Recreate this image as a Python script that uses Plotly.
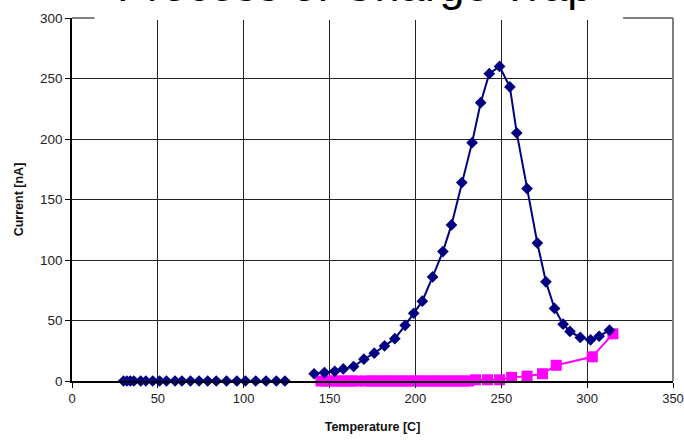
import plotly.graph_objects as go

# --- data ---
blue_temp = [30, 32, 34, 36, 40, 43, 47, 51, 55, 60, 64, 69, 74, 79, 84, 90, 96, 101, 107, 113, 119, 124,
             None,
             141, 147, 153, 158, 164, 170, 176, 182, 188, 194, 199, 204, 210, 216, 221, 227, 233, 238, 243,
             249, 255, 259, 265, 271, 276, 281, 286, 290, 296, 302, 307, 313]
blue_curr = [0, 0, 0, 0, 0, 0, 0, 0, 0, 0, 0, 0, 0, 0, 0, 0, 0, 0, 0, 0, 0, 0,
             None,
             6, 7, 8, 10, 12, 18, 23, 29, 35, 46, 56, 66, 86, 107, 129, 164, 197, 230, 254,
             260, 243, 205, 159, 114, 82, 60, 47, 41, 36, 34, 37, 42]

pink_temp = [145, 148, 151, 154, 157, 160, 163, 166, 171, 174, 177, 180, 183, 186, 189, 192, 195, 198,
             201, 204, 207, 210, 213, 216, 219, 222, 225, 228, 231, 235, 242, 249, 256, 265, 274, 282,
             303, 315]
pink_curr = [0, 0, 0, 0, 0, 0, 0, 0, 0, 0, 0, 0, 0, 0, 0, 0, 0, 0,
             0, 0, 0, 0, 0, 0, 0, 0, 0, 0, 0, 1, 1, 1, 3, 4, 6, 13,
             20, 39]

x_ticks = [0, 50, 100, 150, 200, 250, 300, 350]
y_ticks = [0, 50, 100, 150, 200, 250, 300]

title_text = "Process of Charge Trap"
x_title = "Temperature [C]"
y_title = "Current [nA]"

FONT = "Arial, Liberation Sans, sans-serif"

fig = go.Figure()
fig.add_trace(go.Scatter(
    x=pink_temp, y=pink_curr, mode="lines+markers",
    line=dict(color="#FF00FF", width=2),
    marker=dict(symbol="square", size=11, color="#FF00FF"),
    showlegend=False, cliponaxis=False))
fig.add_trace(go.Scatter(
    x=blue_temp, y=blue_curr, mode="lines+markers", connectgaps=False,
    line=dict(color="#000080", width=2),
    marker=dict(symbol="diamond", size=9, color="#000080"),
    showlegend=False, cliponaxis=False))

fig.update_layout(
    width=684, height=440,
    margin=dict(l=71.5, r=11, t=18, b=59),
    paper_bgcolor="white", plot_bgcolor="white",
    font=dict(family=FONT, color="#222"),
    xaxis=dict(range=[0, 350], tickvals=x_ticks, showgrid=True, gridcolor="#222", gridwidth=1,
               showline=True, linecolor="black", linewidth=1.5, ticks="outside", ticklen=5,
               tickcolor="black", zeroline=False, automargin=False,
               tickfont=dict(size=13, family=FONT, color="#222"),
               title=dict(text="<b>" + x_title + "</b>", font=dict(size=12.5, family=FONT, color="#111"),
                          standoff=17)),
    yaxis=dict(range=[0, 300], tickvals=y_ticks, showgrid=True, gridcolor="#222", gridwidth=1,
               showline=True, linecolor="black", linewidth=1.5, ticks="outside", ticklen=5,
               tickcolor="black", zeroline=False, automargin=False,
               tickfont=dict(size=13.5, family=FONT, color="#222"),
               title=dict(text="<b>" + y_title + "</b>", font=dict(size=12.5, family=FONT, color="#111"),
                          standoff=14)),
    shapes=[
        dict(type="line", xref="paper", yref="paper", x0=0, x1=1, y0=1, y1=1,
             line=dict(color="#808080", width=2), layer="above"),
        dict(type="line", xref="paper", yref="paper", x0=1, x1=1, y0=0, y1=1,
             line=dict(color="#808080", width=2), layer="above"),
        dict(type="rect", xref="paper", yref="paper", x0=0.0374, x1=0.917, y0=0.9945, y1=1.2,
             fillcolor="white", line=dict(width=0), layer="above"),
    ],
    annotations=[
        dict(text=title_text, xref="paper", yref="paper", x=0.5, y=1, xanchor="center",
             yanchor="bottom", yshift=5, xshift=-18, showarrow=False,
             font=dict(size=45, family=FONT, color="black")),
    ],
)

fig.write_html("out.html")
